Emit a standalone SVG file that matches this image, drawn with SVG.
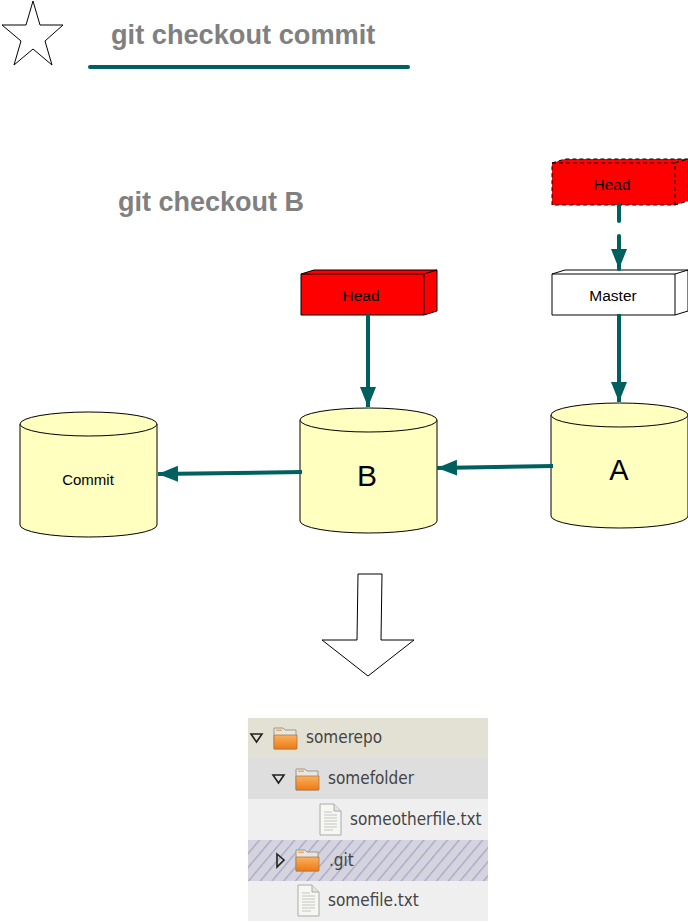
<svg xmlns="http://www.w3.org/2000/svg" width="688" height="922" viewBox="0 0 688 922">
<style>
.t{font-family:"Liberation Sans",Arial,sans-serif;fill:#000;text-anchor:middle}
.title{font-family:"Liberation Sans",Arial,sans-serif;font-weight:bold;fill:#808080}
.cyl{fill:#ffffc0;stroke:#000;stroke-width:1}
.conn{fill:none;stroke:#005f5f;stroke-width:4}
.tree{font-family:"DejaVu Sans Condensed","DejaVu Sans",sans-serif;font-stretch:condensed;font-size:17px;fill:#444}
.tri{fill:none;stroke:#222;stroke-width:1.6}
</style>
<defs>
<marker id="ah" markerUnits="userSpaceOnUse" markerWidth="22" markerHeight="22" refX="20" refY="8" orient="auto"><path d="M0 0L20 8L0 16Z" fill="#005f5f"/></marker>
<pattern id="hatch" patternUnits="userSpaceOnUse" width="9" height="9" patternTransform="rotate(-50)"><rect width="9" height="9" fill="#d4d4de"/><rect width="9" height="1.300" fill="#a9a4c8"/></pattern>
<linearGradient id="fo" x1="0" y1="0" x2="0" y2="1"><stop offset="0" stop-color="#fbb060"/><stop offset="1" stop-color="#ee7a10"/></linearGradient>
<g id="folder"><path d="M1 2h9l2 2h11v19H1Z" fill="#e9e6e0" stroke="#9a9a90"/><path d="M1 9h23v14H1Z" fill="url(#fo)" stroke="#a9784a" stroke-width=".8"/><rect x="3" y="3.500" width="6" height="1.500" fill="#f5a860"/></g>
<g id="file"><path d="M1 1h14l7 7v24H1Z" fill="#f6f6f3" stroke="#aaa"/><path d="M15 1v7h7" fill="#e4e4e0" stroke="#aaa"/><path d="M5 9h8M5 12h13M5 15h13M5 18h13M5 21h13M5 24h13M5 27h9" stroke="#c4c4c0"/></g>
</defs>
<rect width="688" height="922" fill="#fff"/>
<g id="star"><path d="M33 1L40 25H63L45 41L52 65L33 49L14 65L21 41L2 25H26Z" fill="#fff" stroke="#000"/></g>
<g id="title"><text class="title" x="111" y="44" font-size="27.200">git checkout commit</text><path d="M90 67H408" fill="none" stroke="#005f5f" stroke-width="4" stroke-linecap="round"/></g>
<g id="subtitle"><text class="title" x="118" y="211" font-size="27">git checkout B</text></g>
<g id="head-b"><path d="M301 274L314 270H437V311L424 315H301Z" fill="#f00" stroke="#000"/><path d="M301 274H424V315M424 274L437 270" fill="none" stroke="#000"/><text class="t" x="361" y="300.500" font-size="15.500">Head</text></g>
<g id="head-a"><path d="M552 163L565 159H688V201L675 205H552Z" fill="#f00" stroke="#000" stroke-dasharray="4 3"/><path d="M552 163H675V205M675 163L688 159" fill="none" stroke="#000" stroke-dasharray="4 3"/><text class="t" x="612" y="189.500" font-size="15.500">Head</text></g>
<g id="master"><path d="M552 274L565 270H688V311L675 315H552Z" fill="#fff" stroke="#000"/><path d="M552 274H675V315M675 274L688 270" fill="none" stroke="#000"/><text class="t" x="613" y="300.500" font-size="15.500">Master</text></g>
<g id="commit"><path class="cyl" d="M20 424A68.500 12 0 0 1 157 424V525A68.500 12 0 0 1 20 525Z"/><path class="cyl" d="M20 424A68.500 12 0 0 0 157 424" fill="none"/><text class="t" x="88" y="485" font-size="15">Commit</text></g>
<g id="b"><path class="cyl" d="M300 420A68.500 12 0 0 1 437 420V521A68.500 12 0 0 1 300 521Z"/><path class="cyl" d="M300 420A68.500 12 0 0 0 437 420" fill="none"/><text class="t" x="367" y="486" font-size="30">B</text></g>
<g id="a"><path class="cyl" d="M551 415A68.500 12 0 0 1 688 415V516A68.500 12 0 0 1 551 516Z"/><path class="cyl" d="M551 415A68.500 12 0 0 0 688 415" fill="none"/><text class="t" x="619" y="480" font-size="29">A</text></g>
<g id="connectors">
<path class="conn" d="M619 205V221" stroke-linecap="round"/>
<path class="conn" d="M619 236V269" stroke-linecap="round" marker-end="url(#ah)"/>
<path class="conn" d="M619 314V402" marker-end="url(#ah)"/>
<path class="conn" d="M368 314V407" marker-end="url(#ah)"/>
<path class="conn" d="M553 466L437 468" marker-end="url(#ah)"/>
<path class="conn" d="M302 472L158 474" marker-end="url(#ah)"/>
</g>
<g id="down-arrow"><path d="M358 574H382L381 640H414L368 676L322 640H357Z" fill="#fff" stroke="#000"/></g>
<g id="tree">
<rect x="248" y="718" width="240" height="40" fill="#e3e1d3"/>
<rect x="248" y="758" width="240" height="41" fill="#dedede"/>
<rect x="248" y="799" width="240" height="41" fill="#efefef"/>
<rect x="248" y="840" width="240" height="41" fill="url(#hatch)"/>
<rect x="248" y="881" width="240" height="40" fill="#efefef"/>
<path class="tri" d="M251 734H262L256.500 742Z"/>
<path class="tri" d="M273 775H284L278.500 783Z"/>
<path class="tri" d="M277 854L284 860L277 867Z"/>
<use href="#folder" x="273" y="726"/>
<use href="#folder" x="295" y="767"/>
<use href="#folder" x="295" y="848"/>
<use href="#file" x="319" y="803"/>
<use href="#file" x="297" y="884"/>
<text class="tree" x="306" y="743">somerepo</text>
<text class="tree" x="328" y="784">somefolder</text>
<text class="tree" x="350" y="825">someotherfile.txt</text>
<text class="tree" x="329" y="866">.git</text>
<text class="tree" x="328" y="906">somefile.txt</text>
</g>
</svg>
